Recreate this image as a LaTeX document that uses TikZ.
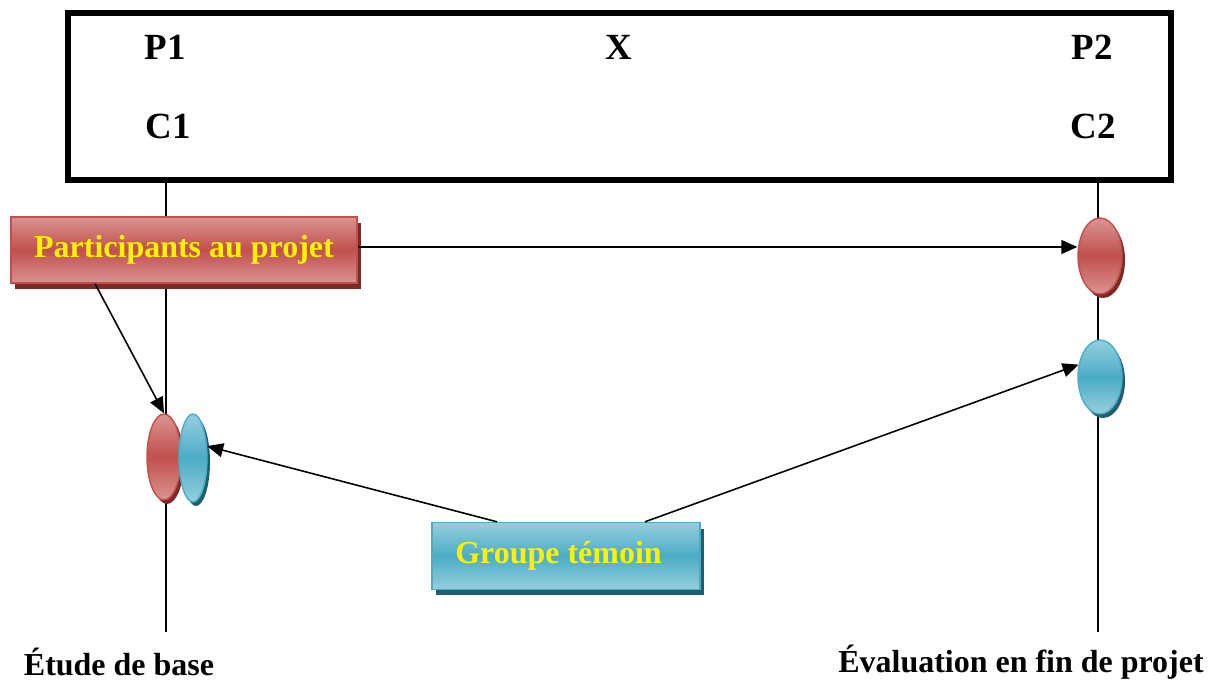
\documentclass[tikz,border=0pt]{standalone}
\usepackage{fontspec}
\setmainfont{Liberation Serif}
\usetikzlibrary{arrows.meta,shapes.geometric,shadows}

\definecolor{redmid}{HTML}{C0504D}
\definecolor{redlight}{HTML}{DA9391}
\definecolor{redshade}{HTML}{7C2A28}
\definecolor{bluemid}{HTML}{4BACC6}
\definecolor{bluelight}{HTML}{95CFDE}
\definecolor{blueshade}{HTML}{215E6E}

\begin{document}
\begin{tikzpicture}[x=0.02cm, y=-0.02cm,
    lbl/.style={font=\fontsize{21}{24}\selectfont\bfseries},
    phase/.style={font=\fontsize{18.2}{21}\selectfont\bfseries},
    conn/.style={line width=0.9pt, -{Triangle[length=0.32cm, width=0.28cm]}},
    redfill/.style={top color=redlight, bottom color=redlight, middle color=redmid, draw=redmid, line width=0.8pt},
    bluefill/.style={top color=bluelight, bottom color=bluelight, middle color=bluemid, draw=bluemid, line width=0.8pt},
    tag/.style={rectangle, inner sep=0pt, text=yellow, font=\fontsize{18.2}{21}\selectfont\bfseries,
        drop shadow={shadow xshift=0.08cm, shadow yshift=-0.12cm, opacity=1, fill=#1}},
    oval/.style={ellipse, inner sep=0pt,
        drop shadow={shadow xshift=0.06cm, shadow yshift=-0.08cm, opacity=1, fill=#1}}]
    \useasboundingbox (0,0) rectangle (1217,682);

    % frame with the four points
    \node[draw, line width=0.12cm, minimum width=22.06cm, minimum height=3.34cm] (frame) at (619.5,96.5) {};
    \node[lbl] (p1) at (165,47) {P1};
    \node[lbl] (c1) at (168,126) {C1};
    \node[lbl] (xx) at (619,47) {X};
    \node[lbl] (p2) at (1092,47) {P2};
    \node[lbl] (c2) at (1093,126) {C2};

    % time lines
    \coordinate (baseEnd) at (166,632);
    \coordinate (finalEnd) at (1098,632);
    \draw[line width=0.9pt] (frame.south -| baseEnd) -- (baseEnd);
    \draw[line width=0.9pt] (frame.south -| finalEnd) -- (finalEnd);

    % measurements
    \node[oval=redshade, redfill, minimum width=0.68cm, minimum height=1.72cm] (preP) at (164,457) {};
    \node[oval=blueshade, bluefill, minimum width=0.56cm, minimum height=1.76cm] (preT) at (193,458) {};
    \node[oval=redshade, redfill, minimum width=0.88cm, minimum height=1.52cm] (postP) at (1100,256) {};
    \node[oval=blueshade, bluefill, minimum width=0.88cm, minimum height=1.48cm] (postT) at (1100,377) {};

    % the two groups
    \node[tag=redshade, redfill, minimum width=6.92cm, minimum height=1.32cm] (part) at (184,250) {Participants au projet};
    \node[tag=blueshade, bluefill, minimum width=5.36cm, minimum height=1.34cm] (grp) at (566,556) {\hspace{-0.3cm}Groupe témoin};

    \draw[conn] ([yshift=0.06cm]part.east) -- ([yshift=0.06cm]part.east -| postP.west);
    \draw[conn] ([xshift=-1.78cm]part.south) -- (preP.north);
    \draw[conn] ([xshift=-1.38cm]grp.north) -- (preT.40);
    \draw[conn] ([xshift=1.58cm]grp.north) -- (postT.150);

    \node[phase] (base) at (119,662) {Étude de base};
    \node[phase] (final) at (1021,662) {Évaluation en fin de projet};
\end{tikzpicture}
\end{document}
